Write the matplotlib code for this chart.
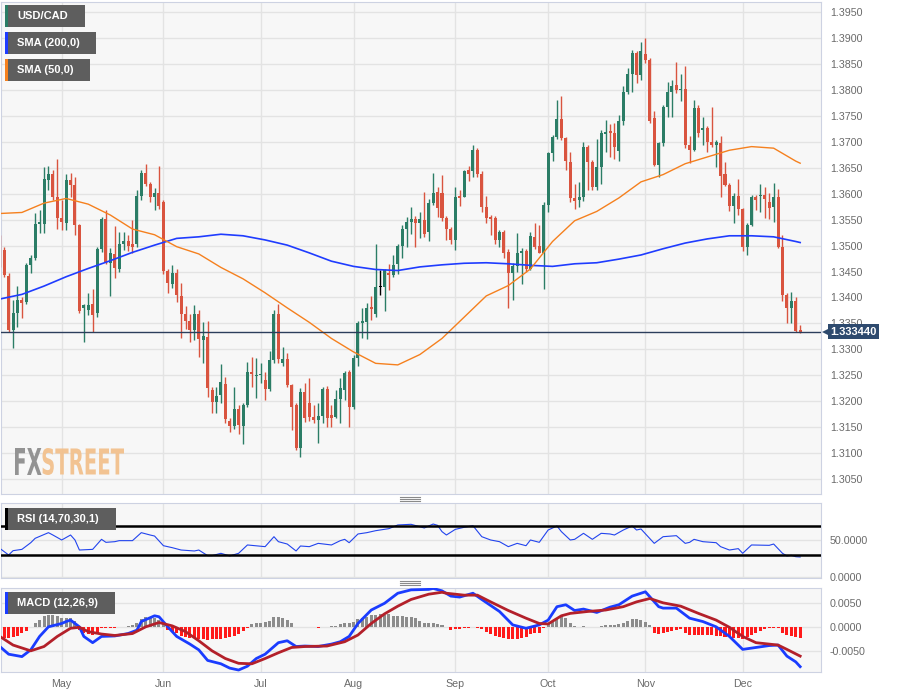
import matplotlib
matplotlib.use("Agg")
import matplotlib.pyplot as plt
import numpy as np
import pandas as pd
from matplotlib.font_manager import FontProperties
from matplotlib.lines import Line2D
from matplotlib.patches import PathPatch, Rectangle
from matplotlib.textpath import TextPath
from matplotlib.transforms import Affine2D, blended_transform_factory

plt.rcParams["font.family"] = ["Liberation Sans", "DejaVu Sans"]

# daily candles, 11 Apr 2023 .. 20 Dec 2023 (business days)
dates = pd.bdate_range("2023-04-11", "2023-12-20")

opens = [
    1.3514, 1.3491, 1.3441, 1.3337, 1.3371, 1.3395, 1.3392, 1.3463, 1.3477, 1.3542,
    1.3542, 1.3626, 1.3638, 1.3594, 1.3553, 1.3543, 1.3626, 1.3617, 1.3540, 1.3380,
    1.3376, 1.3387, 1.3371, 1.3493, 1.3552, 1.3467, 1.3484, 1.3454, 1.3503, 1.3508,
    1.3504, 1.3503, 1.3596, 1.3641, 1.3619, 1.3594, 1.3602, 1.3585, 1.3452, 1.3426,
    1.3447, 1.3403, 1.3369, 1.3355, 1.3337, 1.3368, 1.3318, 1.3323, 1.3222, 1.3199,
    1.3212, 1.3234, 1.3162, 1.3152, 1.3184, 1.3152, 1.3192, 1.3257, 1.3248, 1.3250,
    1.3240, 1.3223, 1.3279, 1.3368, 1.3273, 1.3281, 1.3231, 1.3193, 1.3109, 1.3217,
    1.3197, 1.3169, 1.3164, 1.3171, 1.3223, 1.3173, 1.3170, 1.3205, 1.3222, 1.3257,
    1.3189, 1.3283, 1.3350, 1.3353, 1.3381, 1.3368, 1.3420, 1.3420, 1.3447, 1.3443,
    1.3464, 1.3499, 1.3533, 1.3546, 1.3552, 1.3544, 1.3549, 1.3527, 1.3583, 1.3604,
    1.3601, 1.3553, 1.3533, 1.3511, 1.3596, 1.3594, 1.3645, 1.3643, 1.3684, 1.3639,
    1.3574, 1.3556, 1.3553, 1.3511, 1.3527, 1.3488, 1.3448, 1.3461, 1.3485, 1.3490,
    1.3454, 1.3517, 1.3499, 1.3486, 1.3578, 1.3678, 1.3709, 1.3745, 1.3707, 1.3662,
    1.3591, 1.3588, 1.3593, 1.3691, 1.3662, 1.3614, 1.3652, 1.3715, 1.3721, 1.3717,
    1.3683, 1.3741, 1.3797, 1.3832, 1.3872, 1.3829, 1.3870, 1.3858, 1.3746, 1.3656,
    1.3697, 1.3767, 1.3797, 1.3810, 1.3800, 1.3803, 1.3694, 1.3684, 1.3765, 1.3723,
    1.3726, 1.3699, 1.3694, 1.3697, 1.3638, 1.3617, 1.3576, 1.3596, 1.3570, 1.3498,
    1.3540, 1.3594, 1.3595, 1.3597, 1.3584, 1.3575, 1.3593, 1.3498, 1.3405, 1.3379,
    1.3394, 1.3337,
]
highs = [
    1.3520, 1.3498, 1.3448, 1.3395, 1.3422, 1.3401, 1.3467, 1.3482, 1.3562, 1.3569,
    1.3651, 1.3653, 1.3646, 1.3668, 1.3588, 1.3639, 1.3641, 1.3633, 1.3542, 1.3387,
    1.3408, 1.3416, 1.3498, 1.3556, 1.3569, 1.3495, 1.3538, 1.3527, 1.3527, 1.3520,
    1.3549, 1.3607, 1.3646, 1.3657, 1.3623, 1.3612, 1.3654, 1.3588, 1.3454, 1.3463,
    1.3454, 1.3427, 1.3383, 1.3369, 1.3385, 1.3376, 1.3353, 1.3355, 1.3228, 1.3228,
    1.3272, 1.3247, 1.3167, 1.3227, 1.3193, 1.3196, 1.3276, 1.3285, 1.3283, 1.3274,
    1.3257, 1.3296, 1.3375, 1.3387, 1.3304, 1.3292, 1.3234, 1.3196, 1.3225, 1.3235,
    1.3244, 1.3193, 1.3196, 1.3228, 1.3229, 1.3193, 1.3221, 1.3244, 1.3259, 1.3261,
    1.3289, 1.3355, 1.3379, 1.3389, 1.3402, 1.3503, 1.3453, 1.3455, 1.3465, 1.3482,
    1.3503, 1.3540, 1.3556, 1.3575, 1.3557, 1.3565, 1.3604, 1.3589, 1.3641, 1.3614,
    1.3636, 1.3557, 1.3536, 1.3614, 1.3607, 1.3646, 1.3654, 1.3694, 1.3689, 1.3643,
    1.3596, 1.3559, 1.3557, 1.3530, 1.3531, 1.3493, 1.3466, 1.3524, 1.3496, 1.3493,
    1.3527, 1.3544, 1.3540, 1.3585, 1.3681, 1.3713, 1.3781, 1.3788, 1.3710, 1.3681,
    1.3619, 1.3623, 1.3700, 1.3694, 1.3666, 1.3705, 1.3723, 1.3742, 1.3735, 1.3737,
    1.3752, 1.3808, 1.3842, 1.3877, 1.3876, 1.3893, 1.3900, 1.3861, 1.3760, 1.3700,
    1.3771, 1.3816, 1.3819, 1.3855, 1.3832, 1.3846, 1.3711, 1.3780, 1.3771, 1.3749,
    1.3731, 1.3767, 1.3704, 1.3711, 1.3662, 1.3621, 1.3601, 1.3628, 1.3572, 1.3543,
    1.3598, 1.3598, 1.3619, 1.3614, 1.3602, 1.3620, 1.3609, 1.3520, 1.3408, 1.3411,
    1.3401, 1.3347,
]
lows = [
    1.3459, 1.3440, 1.3334, 1.3302, 1.3344, 1.3360, 1.3387, 1.3448, 1.3472, 1.3525,
    1.3525, 1.3607, 1.3588, 1.3533, 1.3530, 1.3530, 1.3594, 1.3520, 1.3371, 1.3315,
    1.3366, 1.3334, 1.3363, 1.3488, 1.3464, 1.3403, 1.3437, 1.3450, 1.3491, 1.3490,
    1.3485, 1.3498, 1.3588, 1.3615, 1.3585, 1.3569, 1.3570, 1.3446, 1.3408, 1.3419,
    1.3392, 1.3321, 1.3340, 1.3315, 1.3318, 1.3286, 1.3273, 1.3209, 1.3178, 1.3178,
    1.3196, 1.3157, 1.3141, 1.3146, 1.3136, 1.3117, 1.3188, 1.3228, 1.3207, 1.3235,
    1.3202, 1.3220, 1.3273, 1.3274, 1.3267, 1.3228, 1.3144, 1.3105, 1.3092, 1.3160,
    1.3162, 1.3157, 1.3119, 1.3157, 1.3150, 1.3150, 1.3167, 1.3157, 1.3202, 1.3151,
    1.3184, 1.3267, 1.3321, 1.3319, 1.3357, 1.3363, 1.3405, 1.3373, 1.3415, 1.3440,
    1.3446, 1.3477, 1.3498, 1.3522, 1.3498, 1.3514, 1.3516, 1.3509, 1.3578, 1.3556,
    1.3548, 1.3511, 1.3503, 1.3492, 1.3576, 1.3593, 1.3625, 1.3632, 1.3633, 1.3564,
    1.3543, 1.3520, 1.3503, 1.3498, 1.3476, 1.3379, 1.3396, 1.3450, 1.3426, 1.3450,
    1.3453, 1.3493, 1.3485, 1.3417, 1.3564, 1.3664, 1.3705, 1.3704, 1.3646, 1.3585,
    1.3570, 1.3574, 1.3587, 1.3608, 1.3607, 1.3608, 1.3619, 1.3681, 1.3670, 1.3668,
    1.3664, 1.3733, 1.3793, 1.3797, 1.3814, 1.3819, 1.3853, 1.3737, 1.3654, 1.3632,
    1.3692, 1.3748, 1.3748, 1.3795, 1.3778, 1.3688, 1.3659, 1.3683, 1.3709, 1.3694,
    1.3681, 1.3691, 1.3652, 1.3594, 1.3615, 1.3567, 1.3543, 1.3559, 1.3490, 1.3482,
    1.3537, 1.3569, 1.3565, 1.3553, 1.3551, 1.3546, 1.3495, 1.3394, 1.3350, 1.3351,
    1.3334, 1.3332,
]
closes = [
    1.3469, 1.3443, 1.3337, 1.3371, 1.3395, 1.3390, 1.3463, 1.3477, 1.3542, 1.3546,
    1.3628, 1.3638, 1.3594, 1.3553, 1.3546, 1.3626, 1.3617, 1.3540, 1.3374, 1.3385,
    1.3385, 1.3366, 1.3493, 1.3552, 1.3466, 1.3485, 1.3456, 1.3503, 1.3508, 1.3500,
    1.3498, 1.3596, 1.3641, 1.3619, 1.3594, 1.3602, 1.3576, 1.3452, 1.3427, 1.3448,
    1.3405, 1.3369, 1.3355, 1.3338, 1.3369, 1.3319, 1.3325, 1.3225, 1.3199, 1.3210,
    1.3237, 1.3165, 1.3152, 1.3184, 1.3154, 1.3192, 1.3257, 1.3252, 1.3251, 1.3253,
    1.3223, 1.3279, 1.3368, 1.3281, 1.3281, 1.3231, 1.3189, 1.3109, 1.3217, 1.3167,
    1.3169, 1.3164, 1.3171, 1.3223, 1.3167, 1.3167, 1.3205, 1.3225, 1.3254, 1.3189,
    1.3283, 1.3350, 1.3355, 1.3379, 1.3377, 1.3420, 1.3420, 1.3453, 1.3443, 1.3463,
    1.3499, 1.3533, 1.3546, 1.3552, 1.3544, 1.3551, 1.3522, 1.3583, 1.3602, 1.3572,
    1.3553, 1.3533, 1.3511, 1.3594, 1.3591, 1.3643, 1.3639, 1.3684, 1.3639, 1.3574,
    1.3554, 1.3551, 1.3511, 1.3527, 1.3485, 1.3448, 1.3461, 1.3485, 1.3490, 1.3454,
    1.3519, 1.3498, 1.3486, 1.3578, 1.3678, 1.3709, 1.3745, 1.3707, 1.3664, 1.3591,
    1.3587, 1.3593, 1.3691, 1.3662, 1.3614, 1.3651, 1.3717, 1.3720, 1.3717, 1.3691,
    1.3741, 1.3797, 1.3832, 1.3872, 1.3829, 1.3876, 1.3858, 1.3741, 1.3656, 1.3697,
    1.3767, 1.3797, 1.3808, 1.3800, 1.3803, 1.3694, 1.3684, 1.3765, 1.3717, 1.3726,
    1.3700, 1.3694, 1.3699, 1.3634, 1.3617, 1.3576, 1.3596, 1.3570, 1.3498, 1.3540,
    1.3593, 1.3588, 1.3598, 1.3589, 1.3572, 1.3593, 1.3498, 1.3405, 1.3379, 1.3394,
    1.3336, 1.33344,
]

# moving averages read every 5 sessions
sma_day = list(range(0, 181, 5)) + [181]
sma200 = [
    1.3397, 1.3406, 1.3422, 1.3440, 1.3456, 1.3471, 1.3487, 1.3501, 1.3514, 1.3517,
    1.3522, 1.3519, 1.3511, 1.3501, 1.3486, 1.3470, 1.3460, 1.3454, 1.3452, 1.3459,
    1.3463, 1.3466, 1.3467, 1.3465, 1.3462, 1.3460, 1.3465, 1.3467, 1.3474, 1.3482,
    1.3494, 1.3505, 1.3513, 1.3519, 1.3519, 1.3517, 1.3508, 1.3506,
]
sma50 = [
    1.3562, 1.3564, 1.3582, 1.3591, 1.3580, 1.3559, 1.3532, 1.3521, 1.3498, 1.3484,
    1.3458, 1.3436, 1.3409, 1.3380, 1.3352, 1.3321, 1.3295, 1.3273, 1.3270, 1.3290,
    1.3321, 1.3362, 1.3403, 1.3423, 1.3455, 1.3508, 1.3548, 1.3566, 1.3592, 1.3623,
    1.3637, 1.3658, 1.3671, 1.3684, 1.3691, 1.3688, 1.3663, 1.3659,
]

# RSI (14) as (session, value)
rsi_points = [
    (0, 39.1), (2, 30.0), (3, 35.9), (5, 37.7), (7, 46.8), (8, 52.8), (11, 60.5),
    (12, 57.3), (14, 50.5), (16, 57.3), (17, 50.5), (18, 36.8), (21, 37.7), (23, 51.4),
    (24, 47.3), (26, 48.2), (27, 49.6), (30, 49.6), (32, 60.5), (34, 57.3), (35, 55.9),
    (37, 42.7), (39, 40.0), (41, 36.8), (44, 35.5), (45, 36.8), (47, 29.1), (48, 29.1),
    (50, 32.3), (52, 28.7), (54, 32.3), (56, 43.7), (60, 41.4), (62, 55.0), (63, 48.2),
    (65, 45.0), (67, 35.5), (68, 42.3), (70, 41.4), (72, 45.9), (75, 43.7), (77, 49.6),
    (78, 51.4), (79, 46.8), (81, 58.7), (83, 60.5), (85, 63.2), (88, 66.0), (90, 71.0),
    (93, 71.9), (96, 66.9), (98, 72.3), (99, 70.5), (100, 61.9), (101, 57.3),
    (103, 65.0), (105, 67.8), (107, 70.0), (109, 55.0), (111, 50.5), (113, 48.2),
    (115, 41.4), (117, 45.9), (119, 42.7), (120, 50.5), (122, 47.3), (124, 64.1),
    (126, 69.6), (127, 61.9), (129, 50.5), (130, 51.4), (132, 59.6), (134, 51.4),
    (136, 59.6), (138, 58.7), (139, 57.3), (141, 64.1), (143, 69.6), (144, 64.1),
    (145, 65.5), (148, 45.9), (150, 55.0), (153, 56.4), (155, 45.9), (156, 47.3),
    (157, 51.4), (159, 48.2), (162, 46.8), (163, 41.4), (165, 36.8), (167, 38.7),
    (168, 32.3), (170, 43.7), (174, 43.2), (175, 45.0), (177, 32.3), (178, 28.7),
    (179, 29.6), (180, 27.7), (181, 27.3),
]

# MACD (12,26,9)
macd_points = [
    (0, -0.0040), (2, -0.0056), (5, -0.0061), (7, -0.0047), (9, -0.0019), (11, 0.0001),
    (14, 0.0008), (15, 0.0012), (16, 0.0015), (18, 0.0001), (19, -0.0019), (21, -0.0032),
    (23, -0.0019), (26, -0.0018), (29, -0.0013), (31, -0.0006), (32, 0.0012), (35, 0.0024),
    (36, 0.0022), (38, 0.0001), (40, -0.0019), (43, -0.0035), (45, -0.0047), (47, -0.0069),
    (50, -0.0076), (52, -0.0085), (54, -0.0089), (56, -0.0081), (58, -0.0065), (60, -0.0056),
    (63, -0.0032), (65, -0.0028), (67, -0.0040), (69, -0.0039), (72, -0.0040), (75, -0.0035),
    (77, -0.0030), (79, -0.0019), (81, 0.0008), (84, 0.0036), (87, 0.0050), (90, 0.0071),
    (93, 0.0078), (97, 0.0079), (98, 0.0081), (100, 0.0076), (102, 0.0065), (104, 0.0063),
    (107, 0.0071), (109, 0.0058), (113, 0.0033), (116, 0.0005), (119, -0.0002), (122, 0.0005),
    (124, 0.0015), (126, 0.0043), (128, 0.0047), (130, 0.0035), (132, 0.0038), (135, 0.0031),
    (138, 0.0042), (140, 0.0047), (143, 0.0065), (146, 0.0074), (149, 0.0043), (150, 0.0040),
    (153, 0.0040), (156, 0.0019), (159, 0.0012), (162, 0.0001), (165, -0.0019), (166, -0.0028),
    (168, -0.0046), (171, -0.0042), (174, -0.0038), (176, -0.0037), (178, -0.0060),
    (180, -0.0072), (181, -0.0082),
]
signal_points = [
    (0, -0.0019), (3, -0.0037), (7, -0.0049), (10, -0.0040), (13, -0.0019), (16, -0.0002),
    (18, 0.0000), (20, -0.0009), (23, -0.0014), (26, -0.0017), (30, -0.0013), (33, 0.0001),
    (36, 0.0010), (39, 0.0003), (42, -0.0009), (45, -0.0028), (48, -0.0049), (51, -0.0065),
    (54, -0.0075), (57, -0.0076), (60, -0.0065), (63, -0.0053), (66, -0.0042), (69, -0.0040),
    (74, -0.0039), (78, -0.0030), (81, -0.0016), (84, 0.0008), (87, 0.0028), (90, 0.0044),
    (93, 0.0058), (97, 0.0069), (100, 0.0073), (101, 0.0071), (105, 0.0067), (108, 0.0067),
    (111, 0.0053), (115, 0.0035), (119, 0.0019), (122, 0.0008), (124, 0.0007), (127, 0.0024),
    (129, 0.0029), (133, 0.0033), (137, 0.0036), (141, 0.0043), (144, 0.0053), (147, 0.0060),
    (150, 0.0051), (154, 0.0044), (158, 0.0029), (162, 0.0015), (165, 0.0000), (168, -0.0019),
    (171, -0.0032), (174, -0.0035), (176, -0.0037), (178, -0.0046), (181, -0.0060),
]
# histogram, one bar per session, in units of 1e-4
hist_e4 = [
    -19.4, -22.9, -22.9, -20.8, -18.0, -12.5, -6.9, 1.4, 9.7, 15.3,
    23.6, 25.7, 25.7, 23.6, 18.7, 19.4, 18.7, 13.9, -5.6, -11.1,
    -13.9, -16.0, -11.1, -1.0, -1.4, -0.7, -0.5, 1.4, 1.4, 2.8,
    4.9, 8.3, 16.7, 20.8, 18.7, 18.7, 15.3, 6.9, -5.6, -9.0,
    -12.5, -18.0, -19.4, -22.9, -22.9, -24.3, -25.0, -26.4, -25.0, -25.0,
    -24.3, -22.9, -19.4, -18.0, -13.9, -6.9, -0.5, 6.9, 9.7, 9.7,
    11.1, 13.9, 20.8, 22.2, 18.7, 15.3, 8.3, 0.5, 1.4, 1.4,
    0.7, 0.7, -0.5, 1.4, 1.4, 2.8, 3.5, 6.2, 8.3, 8.3,
    11.1, 16.7, 18.7, 20.8, 25.7, 25.7, 27.8, 25.7, 27.1, 23.6,
    23.6, 23.6, 22.2, 20.8, 18.7, 13.9, 9.7, 8.3, 8.3, 6.9,
    4.2, 1.4, -5.6, -4.2, -2.8, -1.4, -0.5, 1.4, -0.5, -4.2,
    -9.0, -13.9, -18.0, -20.8, -22.9, -25.0, -25.0, -25.0, -22.9, -19.4,
    -13.9, -12.5, -11.1, -2.1, 8.3, 13.9, 18.7, 23.6, 18.7, 9.7,
    2.8, 0.5, 2.8, 1.4, 0.5, 1.4, 2.8, 4.9, 4.9, 4.9,
    6.9, 9.7, 13.9, 16.7, 16.7, 15.3, 11.8, 4.9, -11.1, -13.9,
    -11.1, -9.0, -6.9, -5.6, -4.2, -11.1, -16.0, -16.0, -16.0, -16.0,
    -16.0, -16.0, -18.0, -18.0, -19.4, -20.8, -22.9, -22.9, -25.0, -19.4,
    -16.0, -11.1, -6.9, -4.2, -2.1, -0.7, -2.1, -11.1, -16.0, -18.0,
    -20.8, -22.9,
]

price_ticks = np.arange(1.3050, 1.39501, 0.005)
rsi_ticks = [0, 50]
macd_ticks = [-0.005, 0.0, 0.005]

GREEN = "#2b7d66"
RED = "#d9543f"
BG = "#f7f7f7"
GRID = "#e3e3e3"
SPINE = "#cdd2e2"
TICK = "#6a6a6a"

W, H = 898, 697
fig = plt.figure(figsize=(W / 100, H / 100), dpi=100)


def px_axes(x0, y0, x1, y1):
    a = fig.add_axes([x0 / W, 1 - y1 / H, (x1 - x0) / W, (y1 - y0) / H])
    a.set_facecolor(BG)
    for s in a.spines.values():
        s.set_color(SPINE)
    a.set_axisbelow(True)
    return a


ax = px_axes(1, 2, 821, 494)
ax_rsi = px_axes(1, 503, 821, 578)
ax_macd = px_axes(1, 588, 821, 672)

idx = np.arange(len(dates))
o, h, l, c = (np.array(v) for v in (opens, highs, lows, closes))
month_pos = [i for i in range(1, len(dates)) if dates[i].month != dates[i - 1].month]
month_lbl = [dates[i].strftime("%b") for i in month_pos]

for a in (ax, ax_rsi, ax_macd):
    a.set_xlim(0.27, 185.71)
    a.set_xticks(month_pos)
    a.set_xticklabels(month_lbl if a is ax_macd else [])
    a.yaxis.tick_right()
    a.tick_params(axis="y", length=0, pad=6.5, labelsize=7.7, labelcolor=TICK)
    a.tick_params(axis="x", length=0, pad=5, labelsize=7.7, labelcolor=TICK)
    a.grid(True, color=GRID, lw=1)

# price panel
colors = np.where(c > o, GREEN, np.where(c < o, RED, "black"))
ax.vlines(idx, l, h, colors=colors, lw=1, zorder=3)
ax.bar(idx, np.maximum(np.abs(c - o), 0.00012), bottom=np.minimum(o, c),
       width=0.68, color=colors, lw=0, zorder=3)
ax.plot(sma_day, sma200, color="#1f3cff", lw=1.2, zorder=4)
ax.plot(sma_day, sma50, color="#f5801e", lw=1.0, zorder=4)
ax.axhline(c[-1], color="#2c3e5c", lw=1, zorder=5)
ax.set_ylim(1.30210, 1.39699)
ax.set_yticks(price_ticks)
ax.set_yticklabels([f"{v:.4f}" for v in price_ticks])

trans = blended_transform_factory(ax.transAxes, ax.transData)
ax.plot([1.0075], [c[-1]], marker="<", ms=7, color="#2e4a6e", mew=0,
        transform=trans, clip_on=False, zorder=10)
ax.text(1.0115, c[-1], f"{c[-1]:.6f}", transform=trans, ha="left", va="center",
        color="white", fontsize=8, fontweight="bold", clip_on=False, zorder=11,
        bbox=dict(boxstyle="square,pad=0.22", fc="#2e4a6e", ec="none"))

# RSI panel
rsi_day, rsi_val = zip(*rsi_points)
ax_rsi.plot(rsi_day, rsi_val, color="#2244ee", lw=0.8, zorder=3)
ax_rsi.axhline(70, color="black", lw=1.8, zorder=4)
ax_rsi.axhline(30, color="black", lw=1.8, zorder=4)
ax_rsi.set_ylim(-1.4, 101)
ax_rsi.set_yticks(rsi_ticks)
ax_rsi.set_yticklabels([f"{v:.4f}" for v in rsi_ticks])

# MACD panel
hist = np.array(hist_e4) * 1e-4
ax_macd.bar(idx, hist, width=0.68, lw=0, zorder=3,
            color=np.where(hist >= 0, "#8c8c8c", "#ff1a1a"))
m_day, m_val = zip(*macd_points)
s_day, s_val = zip(*signal_points)
ax_macd.plot(m_day, m_val, color="#1a3cff", lw=2, zorder=4)
ax_macd.plot(s_day, s_val, color="#b3202a", lw=2, zorder=5)
ax_macd.set_ylim(-0.00931, 0.00819)
ax_macd.set_yticks(macd_ticks)
ax_macd.set_yticklabels([f"{v:.4f}" for v in macd_ticks])


# legend tags, pixel boxes from the top-left corner
def label_box(x0, y0, x1, y1, text, stripe):
    fig.add_artist(Rectangle((x0 / W, 1 - y1 / H), (x1 - x0) / W, (y1 - y0) / H,
                             transform=fig.transFigure, fc="#5e5e5e", ec="none"))
    fig.add_artist(Rectangle((x0 / W, 1 - y1 / H), 3 / W, (y1 - y0) / H,
                             transform=fig.transFigure, fc=stripe, ec="none"))
    fig.text((x0 + 12) / W, 1 - (y0 + y1) / 2 / H, text, color="white",
             fontsize=8, fontweight="bold", va="center", ha="left")


label_box(5, 5, 85, 27, "USD/CAD", GREEN)
label_box(5, 32, 96, 54, "SMA (200,0)", "#1f3cff")
label_box(5, 59, 90, 81, "SMA (50,0)", "#f5801e")
label_box(5, 508, 116, 530, "RSI (14,70,30,1)", "black")
label_box(5, 592, 115, 614, "MACD (12,26,9)", "#1a3cff")

# panel splitter grips
for y in (497.3, 499.3, 501.3, 581, 583, 585):
    fig.add_artist(Line2D([400 / W, 420 / W], [1 - y / H, 1 - y / H],
                          transform=fig.transFigure, color="#8a8a8a", lw=0.8))

# watermark
fp = FontProperties(family="DejaVu Sans", weight="bold", stretch="condensed")
for word, (bx0, bx1), col in (("FX", (15, 41.5), "#8e8e8e"),
                              ("STREET", (42.5, 124), "#f2c18d")):
    p = TextPath((0, 0), word, size=30, prop=fp)
    e = p.get_extents()
    by0, by1 = H - 475, H - 448
    sx = (bx1 - bx0) / e.width
    sy = (by1 - by0) / e.height
    tr = Affine2D().translate(-e.x0, -e.y0).scale(sx, sy).translate(bx0, by0)
    fig.add_artist(PathPatch(tr.transform_path(p), fc=col, ec="none",
                             transform=None, alpha=0.95))

fig.savefig("out.png", dpi=100, facecolor="white")
